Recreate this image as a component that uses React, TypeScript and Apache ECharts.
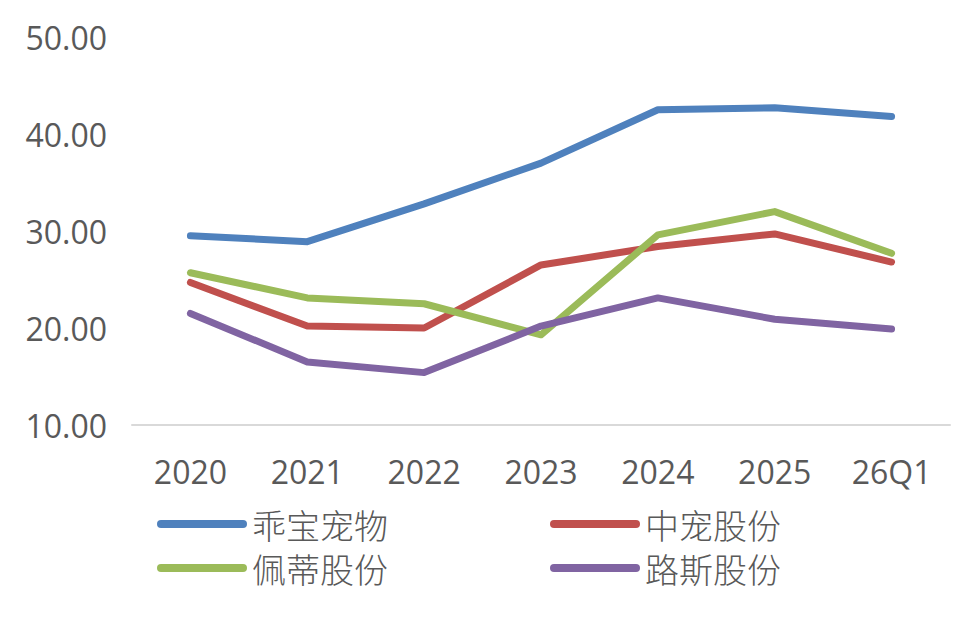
import React, { useEffect, useRef } from "react";
import * as echarts from "echarts";

const categories = ["2020", "2021", "2022", "2023", "2024", "2025", "26Q1"];
const seriesNames = ["乖宝宠物", "中宠股份", "佩蒂股份", "路斯股份"];
const guaibao = [29.5, 28.9, 32.8, 37.0, 42.5, 42.7, 41.8];
const zhongchong = [24.7, 20.2, 20.0, 26.5, 28.4, 29.7, 26.8];
const peidi = [25.7, 23.1, 22.5, 19.3, 29.6, 32.0, 27.7];
const lusi = [21.5, 16.5, 15.4, 20.2, 23.1, 20.9, 19.9];
const colors = ["#4F81BD", "#C0504D", "#9BBB59", "#8064A2"];
const yTicks = [10, 20, 30, 40, 50];

const legendIcon = "path://M4,0 H86 A4,4 0 0 1 86,8 H4 A4,4 0 0 1 4,0 Z";

export default function App() {
  const ref = useRef<HTMLDivElement>(null);
  useEffect(() => {
    if (!ref.current) return;
    const chart = echarts.init(ref.current, undefined, { renderer: "svg" });
    const values = [guaibao, zhongchong, peidi, lusi];
    const legendPos = [
      { left: 152, top: 502 },
      { left: 545, top: 502 },
      { left: 152, top: 546 },
      { left: 545, top: 546 },
    ];
    chart.setOption({
      animation: false,
      backgroundColor: "#ffffff",
      textStyle: { fontFamily: "'Open Sans', 'Noto Sans CJK SC', sans-serif" },
      grid: { left: 132, right: 30, top: 37, bottom: 193, containLabel: false },
      xAxis: {
        type: "category",
        data: categories,
        boundaryGap: true,
        axisLine: { show: true, lineStyle: { color: "#D9D9D9", width: 2 } },
        axisTick: { show: false },
        axisLabel: {
          margin: 30,
          fontSize: 32,
          color: "#595959",
          fontFamily: "'Open Sans', sans-serif",
        },
        splitLine: { show: false },
      },
      yAxis: {
        type: "value",
        min: yTicks[0],
        max: yTicks[yTicks.length - 1],
        interval: 10,
        axisLine: { show: false },
        axisTick: { show: false },
        splitLine: { show: false },
        axisLabel: {
          margin: 25,
          fontSize: 32,
          color: "#595959",
          fontFamily: "'Open Sans', sans-serif",
          formatter: (v: number) => v.toFixed(2),
        },
      },
      legend: seriesNames.map((name, i) => ({
        data: [name],
        left: legendPos[i].left,
        top: legendPos[i].top,
        orient: "horizontal",
        icon: legendIcon,
        itemWidth: 90,
        itemHeight: 8,
        selectedMode: false,
        textStyle: {
          fontSize: 34,
          lineHeight: 34,
          color: "#595959",
          fontFamily: "'Noto Sans CJK SC', sans-serif",
          fontWeight: 300,
        },
      })),
      series: seriesNames.map((name, i) => ({
        name,
        type: "line",
        data: values[i],
        symbol: "none",
        color: colors[i],
        lineStyle: { width: 7, color: colors[i], cap: "round", join: "round" },
        itemStyle: { color: colors[i] },
      })),
    });
    return () => chart.dispose();
  }, []);
  return (
    <div
      ref={ref}
      style={{ position: "fixed", left: 0, top: 0, width: 980, height: 618 }}
    />
  );
}
